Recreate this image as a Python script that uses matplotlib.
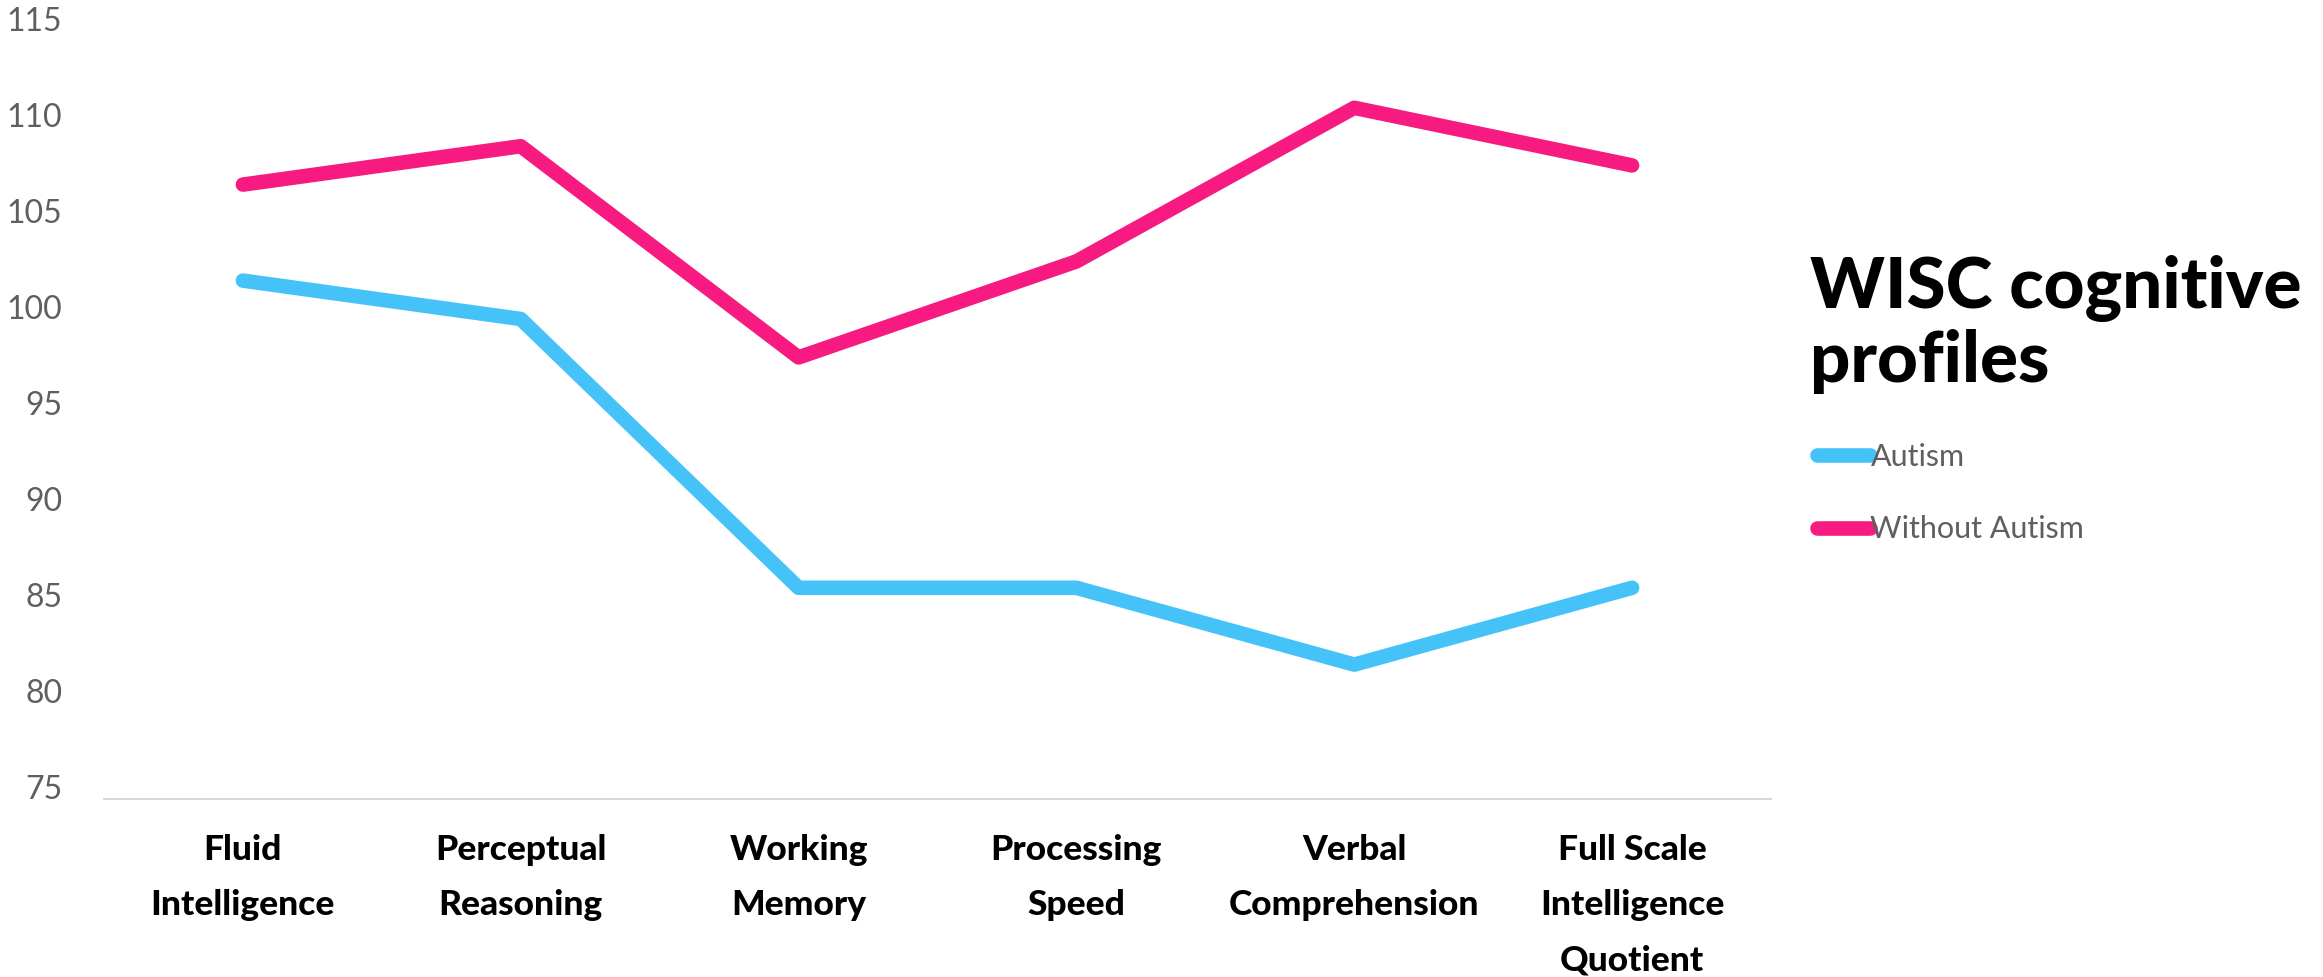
import matplotlib
matplotlib.use("Agg")
import matplotlib.pyplot as plt

# WISC index scores for the two groups
categories = ["Fluid\nIntelligence", "Perceptual\nReasoning", "Working\nMemory",
              "Processing\nSpeed", "Verbal\nComprehension",
              "Full Scale\nIntelligence\nQuotient"]
autism = [102, 100, 86, 86, 82, 86]
without_autism = [107, 109, 98, 103, 111, 108]
y_ticks = [75, 80, 85, 90, 95, 100, 105, 110, 115]

BLUE = "#45c2f7"
PINK = "#f71a80"
GREY = "#5f5f5f"

W, H = 2323, 977
fig = plt.figure(figsize=(W / 100, H / 100), dpi=100)
ax = fig.add_axes([104 / W, 1 - 799 / H, (1771 - 104) / W, (799 - 31) / H])

ax.plot(categories, autism, color=BLUE, lw=10.5, solid_capstyle="round",
        solid_joinstyle="round", label="Autism")
ax.plot(categories, without_autism, color=PINK, lw=10.5, solid_capstyle="round",
        solid_joinstyle="round", label="Without Autism")

ax.set_xlim(-0.5, len(categories) - 0.5)
ax.set_ylim(75, 115)
ax.set_yticks(y_ticks)

for side in ["top", "right", "left"]:
    ax.spines[side].set_visible(False)
ax.spines["bottom"].set_color("#d9d9d9")
ax.spines["bottom"].set_linewidth(1.5)

ax.tick_params(axis="y", length=0, pad=30, labelsize=23, labelcolor=GREY)
ax.tick_params(axis="x", length=0, pad=25)
for lbl in ax.get_yticklabels():
    lbl.set_fontfamily("Lato")
    lbl.set_fontweight("normal")
    lbl.set_va("baseline")
for lbl in ax.get_xticklabels():
    lbl.set_fontfamily("Lato")
    lbl.set_fontweight("black")
    lbl.set_fontsize(25.5)
    lbl.set_color("black")
    lbl.set_linespacing(1.9)

fig.text(1810 / W, 1 - 255 / H, "WISC cognitive\nprofiles", ha="left", va="top",
         fontsize=51, fontfamily="Lato", fontweight="black", linespacing=1.13)

leg = ax.legend(loc="upper left", bbox_to_anchor=(1817 / W, 1 - 443 / H),
                bbox_transform=fig.transFigure, frameon=False, borderpad=0,
                borderaxespad=0, handlelength=1.75, handletextpad=0.0,
                labelspacing=1.45, prop={"family": "Lato", "weight": "normal", "size": 22})
for t in leg.get_texts():
    t.set_color(GREY)

fig.savefig("out.png", dpi=100, facecolor="white")
